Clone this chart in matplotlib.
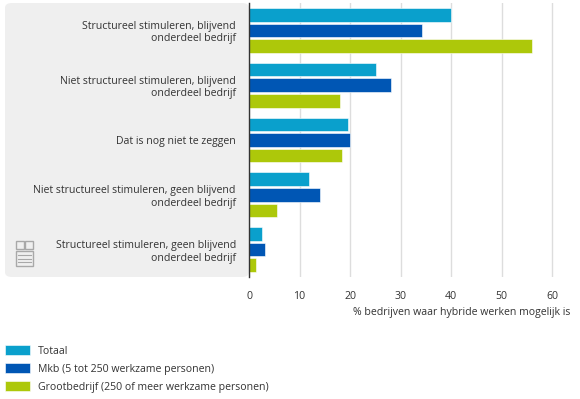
import numpy as np
import matplotlib
matplotlib.use("Agg")
import matplotlib.pyplot as plt
from matplotlib.patches import FancyBboxPatch, Rectangle

plt.rcParams['font.family'] = ['Open Sans', 'DejaVu Sans']

categories = [
    "Structureel stimuleren, blijvend\nonderdeel bedrijf",
    "Niet structureel stimuleren, blijvend\nonderdeel bedrijf",
    "Dat is nog niet te zeggen",
    "Niet structureel stimuleren, geen blijvend\nonderdeel bedrijf",
    "Structureel stimuleren, geen blijvend\nonderdeel bedrijf",
]
series_names = [
    "Totaal",
    "Mkb (5 tot 250 werkzame personen)",
    "Grootbedrijf (250 of meer werkzame personen)",
]
totaal = [40.0, 25.1, 19.5, 11.8, 2.6]
mkb = [34.2, 28.0, 19.9, 14.1, 3.1]
groot = [55.9, 18.0, 18.4, 5.5, 1.4]
colors = ["#0AA0CC", "#0056B4", "#ADC80A"]

W, H = 580, 399
FS = 7.6
fig = plt.figure(figsize=(W / 100, H / 100), dpi=100)

def fx(px):
    return px / W

def fy(py):
    return 1 - py / H

# grey label panel
panel = FancyBboxPatch((fx(5), fy(277)), fx(249) - fx(5), fy(3) - fy(277),
                       boxstyle="round,pad=0,rounding_size=0.012",
                       transform=fig.transFigure, facecolor="#EFEFEF",
                       edgecolor="none", zorder=-5)
fig.patches.append(panel)

# rough cbs logo
for (x0, y0, w, h) in [(16, 241, 8, 8), (25, 241, 8, 8), (16, 251, 17, 15)]:
    fig.patches.append(Rectangle((fx(x0), fy(y0 + h)), fx(w), h / H,
                                 transform=fig.transFigure, fill=False,
                                 edgecolor="#A8A8A8", linewidth=1.0, zorder=-4))
for yy in [255, 258.5, 262]:
    fig.add_artist(plt.Line2D([fx(18), fx(31)], [fy(yy), fy(yy)],
                              transform=fig.transFigure, color="#A8A8A8",
                              linewidth=0.8, zorder=-4))

ax = fig.add_axes([fx(249), fy(277), fx(570) - fx(249), fy(3) - fy(277)])
ax.set_facecolor("none")

y = np.arange(len(categories))
h = 0.25
step = 0.285
for i, (vals, name) in enumerate(zip([totaal, mkb, groot], series_names)):
    ax.barh(y + (i - 1) * step, vals, height=h, color=colors[i], label=name,
            edgecolor="white", linewidth=0.4, zorder=3)

ax.set_ylim(len(categories) - 0.5, -0.5)
ax.set_xlim(0, 63.5)
ax.set_xticks([0, 10, 20, 30, 40, 50, 60])
ax.set_yticks(y)
ax.set_yticklabels(categories, fontsize=FS, color="#333333", ha="right")
ax.tick_params(axis="y", length=0, pad=9.5)
ax.tick_params(axis="x", length=0, pad=10, labelsize=FS, labelcolor="#333333")
ax.grid(axis="x", color="#DDDDDD", linewidth=1.0, zorder=0)
for s in ["top", "right", "bottom"]:
    ax.spines[s].set_visible(False)
ax.spines["left"].set_color("#333333")
ax.spines["left"].set_linewidth(1.0)
ax.spines["left"].set_zorder(4)

fig.text(fx(570), fy(312), "% bedrijven waar hybride werken mogelijk is",
         ha="right", va="center", fontsize=FS, color="#333333")

handles, labels = ax.get_legend_handles_labels()
fig.legend(handles, labels, loc="upper left", bbox_to_anchor=(fx(5), fy(345)),
           frameon=False, fontsize=FS, handlelength=2.35, handleheight=1.1,
           handletextpad=0.75, labelspacing=0.6, labelcolor="#333333",
           borderpad=0, borderaxespad=0)

fig.savefig("out.png", dpi=100)
